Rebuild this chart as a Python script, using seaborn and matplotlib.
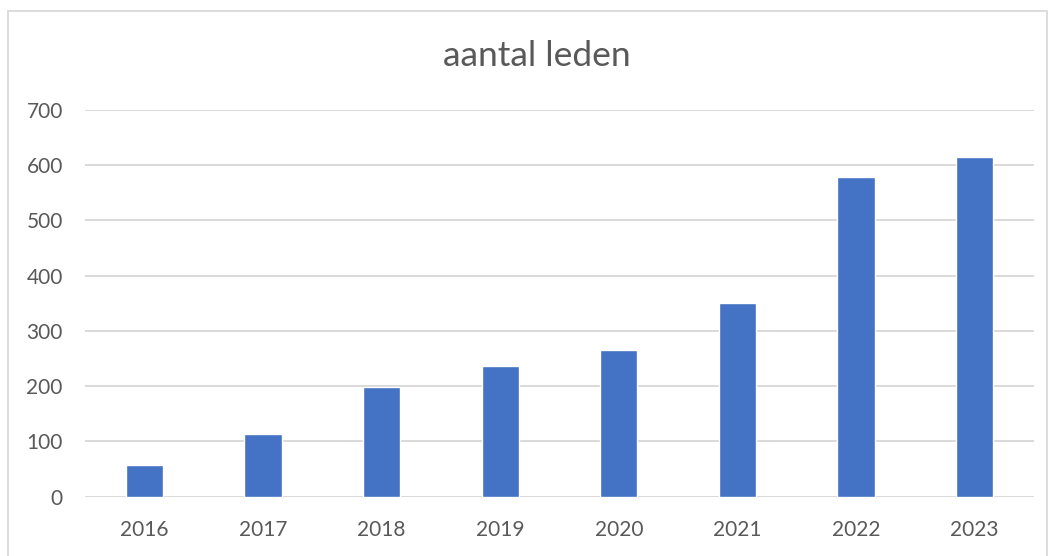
import pandas as pd
import matplotlib.pyplot as plt
import seaborn as sns
from matplotlib.patches import Rectangle

# data
years = ["2016", "2017", "2018", "2019", "2020", "2021", "2022", "2023"]
members = [57, 113, 198, 237, 265, 350, 579, 615]

df = pd.DataFrame({"jaar": years, "leden": members})

sns.set_style("white")
plt.rcParams["font.family"] = ["Lato", "DejaVu Sans"]

TEXT = "#595959"
GRID = "#D9D9D9"
BAR = "#4472C4"

fig = plt.figure(figsize=(10.5, 5.56), dpi=100)
ax = fig.add_axes([85 / 1050, 59.3 / 556, 949 / 1050, 386.7 / 556])

sns.barplot(data=df, x="jaar", y="leden", color=BAR, width=0.315,
            saturation=1, ax=ax, zorder=3)

ax.set_ylim(0, 700)
ax.set_yticks(range(0, 701, 100))
ax.set_xlim(-0.5, len(years) - 0.5)
ax.grid(axis="y", color=GRID, linewidth=1.4, zorder=0)
ax.set_axisbelow(True)
for s in ax.spines.values():
    s.set_visible(False)
ax.tick_params(axis="both", length=0, labelsize=15, colors=TEXT)
ax.tick_params(axis="y", pad=16)
ax.tick_params(axis="x", pad=17)
ax.set_xlabel("")
ax.set_ylabel("")

fig.text(537 / 1050, 1 - 56 / 556, "aantal leden", ha="center", va="center",
         fontsize=25.5, color=TEXT)

# chart frame like the spreadsheet
fig.patches.append(Rectangle((8 / 1050, -0.05), 1039 / 1050, 1.05 - 11 / 556,
                             transform=fig.transFigure, fill=False,
                             edgecolor=GRID, linewidth=1.3))

fig.savefig("out.png", dpi=100)
